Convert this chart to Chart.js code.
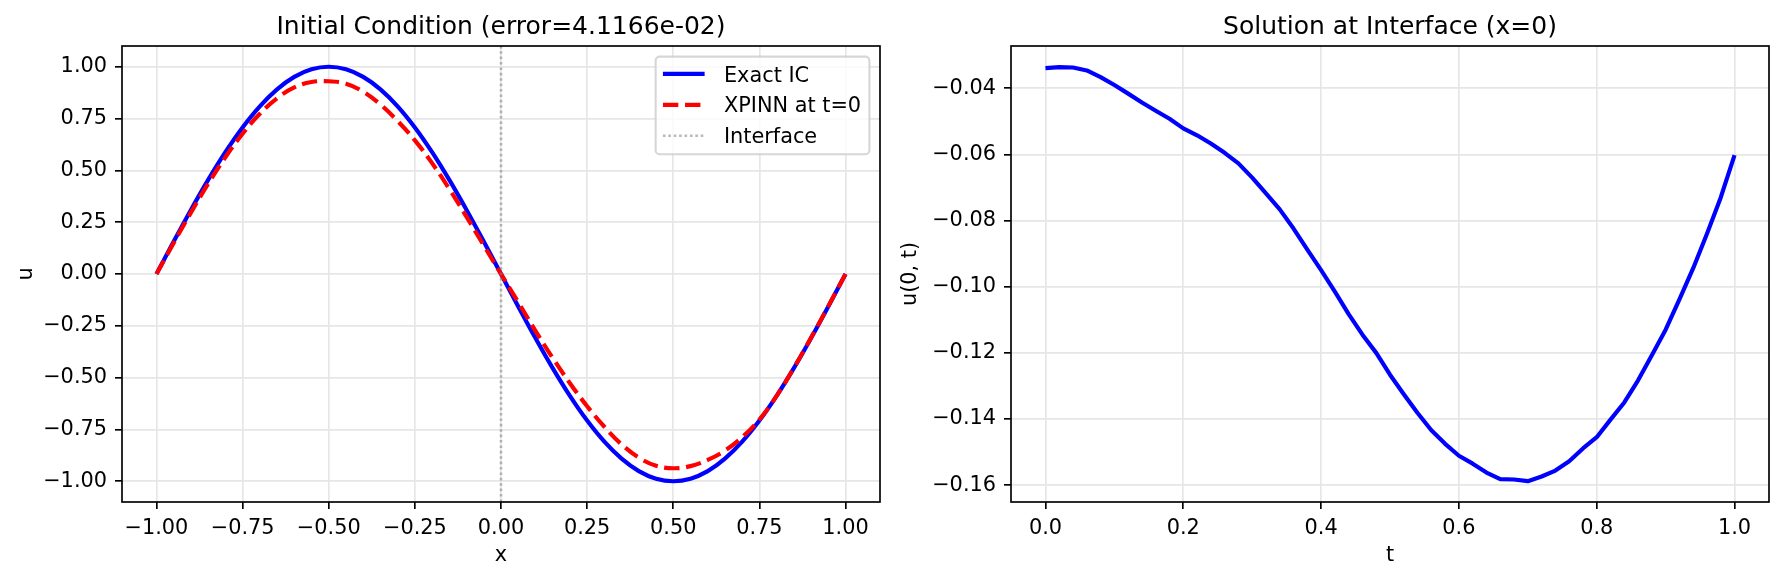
<!DOCTYPE html>
<html><head><meta charset="utf-8">
<script src="https://cdn.jsdelivr.net/npm/chart.js@4/dist/chart.umd.min.js"></script>
<style>
html,body{margin:0;padding:0;background:#fff;overflow:hidden;width:1784px;height:581px}
canvas{position:absolute;top:0}
#c1{left:0}
#c2{left:892px}
</style></head><body>
<canvas id="c1" width="892" height="581"></canvas>
<canvas id="c2" width="892" height="581"></canvas>
<script>
// ---------- data ----------
const icX = [-1.00,-0.95,-0.90,-0.85,-0.80,-0.75,-0.70,-0.65,-0.60,-0.55,-0.50,-0.45,-0.40,-0.35,-0.30,-0.25,-0.20,-0.15,-0.10,-0.05,
             0.00,0.05,0.10,0.15,0.20,0.25,0.30,0.35,0.40,0.45,0.50,0.55,0.60,0.65,0.70,0.75,0.80,0.85,0.90,0.95,1.00];
const exactIC = [0.0000,0.1564,0.3090,0.4540,0.5878,0.7071,0.8090,0.8910,0.9511,0.9877,1.0000,0.9877,0.9511,0.8910,0.8090,0.7071,0.5878,0.4540,0.3090,0.1564,
                 0.0000,-0.1564,-0.3090,-0.4540,-0.5878,-0.7071,-0.8090,-0.8910,-0.9511,-0.9877,-1.0000,-0.9877,-0.9511,-0.8910,-0.8090,-0.7071,-0.5878,-0.4540,-0.3090,-0.1564,0.0000];
const xpinnIC = [0.000,0.150,0.296,0.435,0.563,0.677,0.773,0.848,0.900,0.926,0.930,0.918,0.880,0.818,0.738,0.645,0.535,0.410,0.276,0.138,
                 0.000,-0.136,-0.274,-0.405,-0.527,-0.638,-0.737,-0.822,-0.886,-0.925,-0.937,-0.927,-0.897,-0.852,-0.787,-0.702,-0.588,-0.453,-0.307,-0.155,0.000];
const interfaceX = 0;

const ifT = [0.00,0.02,0.04,0.06,0.08,0.10,0.12,0.14,0.16,0.18,0.20,0.22,0.24,0.26,0.28,0.30,0.32,0.34,0.36,0.38,0.40,0.42,0.44,0.46,0.48,0.50,
             0.52,0.54,0.56,0.58,0.60,0.62,0.64,0.66,0.68,0.70,0.72,0.74,0.76,0.78,0.80,0.82,0.84,0.86,0.88,0.90,0.92,0.94,0.96,0.98,1.00];
const ifU = [-0.0339,-0.0336,-0.0337,-0.0346,-0.0366,-0.0390,-0.0416,-0.0443,-0.0468,-0.0492,-0.0521,-0.0542,-0.0567,-0.0595,-0.0627,-0.0670,-0.0718,-0.0766,-0.0824,-0.0888,-0.0950,-0.1015,-0.1083,-0.1145,-0.1200,-0.1266,
             -0.1325,-0.1382,-0.1434,-0.1475,-0.1511,-0.1535,-0.1562,-0.1582,-0.1583,-0.1588,-0.1574,-0.1556,-0.1528,-0.1489,-0.1455,-0.1402,-0.1350,-0.1283,-0.1207,-0.1130,-0.1038,-0.0944,-0.0840,-0.0730,-0.0602];

const leftXTicks = [-1.00,-0.75,-0.50,-0.25,0.00,0.25,0.50,0.75,1.00];
const leftXTickLabels = ['\u22121.00','\u22120.75','\u22120.50','\u22120.25','0.00','0.25','0.50','0.75','1.00'];
const leftYTicks = [-1.00,-0.75,-0.50,-0.25,0.00,0.25,0.50,0.75,1.00];
const leftYTickLabels = ['\u22121.00','\u22120.75','\u22120.50','\u22120.25','0.00','0.25','0.50','0.75','1.00'];
const rightXTicks = [0.0,0.2,0.4,0.6,0.8,1.0];
const rightXTickLabels = ['0.0','0.2','0.4','0.6','0.8','1.0'];
const rightYTicks = [-0.16,-0.14,-0.12,-0.10,-0.08,-0.06,-0.04];
const rightYTickLabels = ['\u22120.16','\u22120.14','\u22120.12','\u22120.10','\u22120.08','\u22120.06','\u22120.04'];

const leftXRange = [-1.1, 1.1];
const leftYRange = [-1.1, 1.1];
const rightXRange = [-0.05, 1.05];
const rightYRange = [-0.1651, -0.0272];

// ---------- styling ----------
const FS = 20.83;
Chart.defaults.font.family = '"DejaVu Sans", sans-serif';
Chart.defaults.font.size = FS;
Chart.defaults.color = '#000';

const GRID = {color: '#e6e6e6', lineWidth: 1.67, drawTicks: true, tickLength: 7, tickColor: '#000', tickWidth: 1.67};

function makeAxis(pos, range, ticks, labels, title, titlePad, fixedSize) {
  return {
    type: 'linear', position: pos, min: range[0], max: range[1],
    grid: GRID,
    border: {display: false},
    ticks: {autoSkip: false, maxRotation: 0, padding: pos === 'bottom' ? 7 : 8,
            callback: (v, i) => labels[i]},
    afterBuildTicks: s => { s.ticks = ticks.map(v => ({value: v})); },
    afterFit: s => { if (pos === 'bottom') s.height = fixedSize; else s.width = fixedSize; },
    title: {display: true, text: title, padding: titlePad, font: {size: FS}}
  };
}

const framePlugin = {
  id: 'frame',
  afterDatasetsDraw(chart) {
    const {ctx, chartArea: a} = chart;
    ctx.save();
    ctx.strokeStyle = '#000'; ctx.lineWidth = 1.67;
    ctx.strokeRect(a.left, a.top, a.right - a.left, a.bottom - a.top);
    ctx.restore();
  }
};

const boxLegend = {
  id: 'boxLegend',
  afterDraw(chart) {
    const {ctx, chartArea: a} = chart;
    const items = chart.data.datasets;
    ctx.save();
    ctx.font = FS + 'px "DejaVu Sans"';
    const textW = Math.max(...items.map(d => ctx.measureText(d.label).width));
    const w = 68.3 + textW + 8.3, h = 97.6;
    const x0 = a.right - 10.6 - w, y0 = a.top + 10.6;
    ctx.beginPath();
    ctx.roundRect(x0, y0, w, h, 4);
    ctx.fillStyle = 'rgba(255,255,255,0.8)'; ctx.fill();
    ctx.strokeStyle = 'rgba(204,204,204,0.8)'; ctx.lineWidth = 2.08; ctx.stroke();
    items.forEach((d, i) => {
      const y = y0 + 17.3 + i * 30.9;
      ctx.beginPath();
      ctx.setLineDash(d.borderDash || []);
      ctx.strokeStyle = d.borderColor; ctx.lineWidth = d.borderWidth; ctx.lineCap = 'butt';
      ctx.moveTo(x0 + 7.3, y); ctx.lineTo(x0 + 7.3 + 41.7, y); ctx.stroke();
      ctx.setLineDash([]);
      ctx.fillStyle = '#000'; ctx.textBaseline = 'alphabetic'; ctx.textAlign = 'left';
      ctx.fillText(d.label, x0 + 68.3, y + 7.6);
    });
    ctx.restore();
  }
};

const common = {
  responsive: false, animation: false, devicePixelRatio: 1, events: [],
  elements: {point: {radius: 0}, line: {borderJoinStyle: 'round', borderCapStyle: 'butt'}}
};

new Chart(document.getElementById('c1'), {
  type: 'line',
  data: {
    datasets: [
      {label: 'Exact IC', data: icX.map((x, i) => ({x, y: exactIC[i]})), borderColor: '#0000ff', borderWidth: 4.17, tension: 0.4, order: 3, fill: false},
      {label: 'XPINN at t=0', data: icX.map((x, i) => ({x, y: xpinnIC[i]})), borderColor: '#ff0000', borderWidth: 4.17, borderDash: [15.4, 6.7], tension: 0.4, order: 2, fill: false},
      {label: 'Interface', data: [{x: interfaceX, y: leftYRange[0]}, {x: interfaceX, y: leftYRange[1]}], borderColor: 'rgba(128,128,128,0.55)', borderWidth: 2.6, borderDash: [2.6, 2.8], order: 1, fill: false}
    ]
  },
  options: Object.assign({}, common, {
    layout: {padding: {left: 0, right: 12, top: 0, bottom: 0}},
    plugins: {
      legend: {display: false}, tooltip: {enabled: false},
      title: {display: true, text: 'Initial Condition (error=4.1166e-02)', fullSize: false, color: '#000',
              font: {size: 25, weight: 'normal'}, padding: {top: 12, bottom: 4}}
    },
    scales: {
      x: makeAxis('bottom', leftXRange, leftXTicks, leftXTickLabels, 'x', {top: 0, bottom: 12.5}, 79),
      y: makeAxis('left', leftYRange, leftYTicks, leftYTickLabels, 'u', {top: 14.5, bottom: 0}, 122)
    }
  }),
  plugins: [framePlugin, boxLegend]
});

new Chart(document.getElementById('c2'), {
  type: 'line',
  data: {
    datasets: [
      {label: 'u(0, t)', data: ifT.map((t, i) => ({x: t, y: ifU[i]})), borderColor: '#0000ff', borderWidth: 4.17, tension: 0, fill: false}
    ]
  },
  options: Object.assign({}, common, {
    layout: {padding: {left: 0, right: 15, top: 0, bottom: 0}},
    plugins: {
      legend: {display: false}, tooltip: {enabled: false},
      title: {display: true, text: 'Solution at Interface (x=0)', fullSize: false, color: '#000',
              font: {size: 25, weight: 'normal'}, padding: {top: 12, bottom: 4}}
    },
    scales: {
      x: makeAxis('bottom', rightXRange, rightXTicks, rightXTickLabels, 't', {top: 0, bottom: 12.5}, 79),
      y: makeAxis('left', rightYRange, rightYTicks, rightYTickLabels, 'u(0, t)', {top: 6.5, bottom: 0}, 119)
    }
  }),
  plugins: [framePlugin]
});
</script>
</body></html>
